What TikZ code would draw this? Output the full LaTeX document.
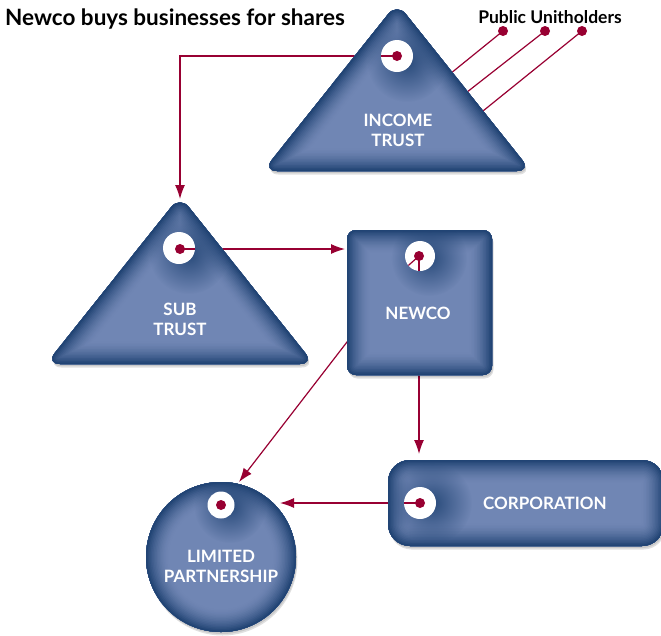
\documentclass[tikz,border=0pt]{standalone}
\usepackage{fontspec}
\setmainfont{Lato}
\usetikzlibrary{arrows.meta,fadings}
\definecolor{blueL}{RGB}{112,134,180}
\definecolor{blueD}{RGB}{33,68,116}
\definecolor{wine}{RGB}{152,0,50}
\tikzfading[name=dimfade, inner color=transparent!0, outer color=transparent!100]

% #1 path options, #2 path, #3 dimple centre, #4 dimple radius
\newcommand\pillow[4]{%
  \fill[black,opacity=0.10,shift={(1,2)},#1] #2;
  \fill[black,opacity=0.12,shift={(1.5,3.5)},#1] #2;
  \begin{scope}
    \clip[#1] #2;
    \fill[blueL,#1] #2;
    \foreach \k in {0,...,14}{%
      \pgfmathtruncatemacro\pc{100*((\k+1)/15)^1.6}%
      \pgfmathsetmacro\lw{(15-\k)*3}%
      \draw[#1, line width=\lw pt, color=blueD!\pc!blueL] #2;
    }
    \fill[dimple] #3 circle (#4);
  \end{scope}}

\begin{document}
\begin{tikzpicture}[x=1pt,y=-1pt,
  conn/.style={draw=wine, line width=1.2pt},
  arr/.style={conn, -{Latex[length=14pt,width=10pt]}},
  lbl/.style={text=white, font=\bfseries\fontsize{17}{20}\selectfont, align=center},
  dimple/.style={fill=blueD, path fading=dimfade, fill opacity=0.9},
  hole/.style={fill=white},
  dot/.style={fill=wine}]
\useasboundingbox (0,0) rectangle (661,635);

% named points
\coordinate (itdot) at (397,56);
\coordinate (stdot) at (180,249);
\coordinate (nwdot) at (419,256);
\coordinate (codot) at (420,503);
\coordinate (lpdot) at (221,505);
\coordinate (corner1) at (180,56);
\coordinate (stin) at (180,199);
\coordinate (nwin) at (345,249);
\coordinate (coin) at (419,454);
\coordinate (nwbend) at (401,272);
\coordinate (lpin1) at (239,482);
\coordinate (lpin2) at (280,503);
\coordinate (pu1) at (503,31);
\coordinate (pu2) at (545,31);
\coordinate (pu3) at (582,31);
\coordinate (pu1e) at (445,78);
\coordinate (pu2e) at (462,96);
\coordinate (pu3e) at (478,115);

% connectors (beneath the shapes)
\draw[arr] (itdot) -- (corner1) -- (stin);
\draw[arr] (stdot) -- (nwin);
\draw[arr] (nwdot) -- (coin);
\draw[arr] (nwdot) -- (nwbend) -- (lpin1);
\draw[arr] (codot) -- (lpin2);
\draw[conn] (pu1) -- (pu1e);
\draw[conn] (pu2) -- (pu2e);
\draw[conn] (pu3) -- (pu3e);

% shapes with their dimples
\pillow{rounded corners=14pt}{(397,3) -- (263,171) -- (531,171) -- cycle}{(407,62)}{40}
\pillow{rounded corners=14pt}{(180,196) -- (46,364) -- (314,364) -- cycle}{(189,254)}{40}
\pillow{rounded corners=9pt}{(347,230) rectangle (492,375)}{(429,258)}{38}
\pillow{rounded corners=22pt}{(388,460) rectangle (664,546)}{(432,503)}{40}
\pillow{}{(221,557) circle (75)}{(230,507)}{36}

% holes
\fill[hole] (itdot) circle (16);
\fill[hole] (179,248) circle (16);
\fill[hole] (420,256) circle (15);
\fill[hole] (codot) circle (16);
\fill[hole] (lpdot) circle (13.5);

% connector parts seen in the holes
\begin{scope}\clip (itdot) circle (16); \draw[conn] (itdot) -- (corner1); \end{scope}
\begin{scope}\clip (179,248) circle (16); \draw[conn] (stdot) -- (nwin); \end{scope}
\begin{scope}\clip (420,256) circle (15); \draw[conn] (nwdot) -- (coin); \draw[conn] (nwdot) -- (nwbend); \end{scope}
\begin{scope}\clip (codot) circle (16); \draw[conn] (codot) -- (lpin2); \end{scope}

% dots
\fill[dot] (itdot) circle (5);
\fill[dot] (stdot) circle (5);
\fill[dot] (nwdot) circle (5);
\fill[dot] (codot) circle (5);
\fill[dot] (lpdot) circle (5);
\fill[dot] (pu1) circle (5);
\fill[dot] (pu2) circle (5);
\fill[dot] (pu3) circle (5);

% texts
\node[anchor=base west, font=\bfseries\fontsize{22.5}{26}\selectfont, inner sep=0pt] (title) at (5,25) {Newco buys businesses for shares};
\node[anchor=base, font=\bfseries\fontsize{17.5}{20}\selectfont, inner sep=0pt] (pu) at (550,23) {Public Unitholders};
\node[lbl] (itlbl) at (398,130) {INCOME\\TRUST};
\node[lbl] (stlbl) at (180,319) {SUB\\TRUST};
\node[lbl] (nwlbl) at (418,313) {NEWCO};
\node[lbl] (colbl) at (545,503) {CORPORATION};
\node[lbl] (lplbl) at (221,566) {LIMITED\\PARTNERSHIP};
\end{tikzpicture}
\end{document}
